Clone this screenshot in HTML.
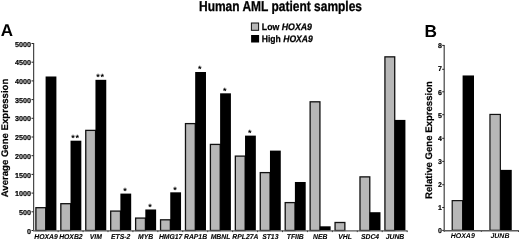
<!DOCTYPE html>
<html><head><meta charset="utf-8"><style>
html,body{margin:0;padding:0;background:#fff;}
svg{display:block;filter:grayscale(1);text-rendering:geometricPrecision;font-family:"Liberation Sans",sans-serif;}
</style></head><body>
<svg width="520" height="240" viewBox="0 0 520 240">
<text x="199.0" y="10.7" font-size="14.2" font-weight="bold" stroke="#000" stroke-width="0.3" textLength="163.0" lengthAdjust="spacingAndGlyphs">Human AML patient samples</text>
<rect x="251.4" y="23.0" width="7.2" height="7.3" fill="#b7b7b7" stroke="#111" stroke-width="1"/>
<rect x="251.1" y="35.0" width="8" height="7.5" fill="#000"/>
<text x="261.8" y="30.1" font-size="9.4" font-weight="bold" stroke="#000" stroke-width="0.25" textLength="50.2" lengthAdjust="spacingAndGlyphs">Low <tspan font-style="italic">HOXA9</tspan></text>
<text x="261.8" y="42.4" font-size="9.4" font-weight="bold" stroke="#000" stroke-width="0.25" textLength="51.0" lengthAdjust="spacingAndGlyphs">High <tspan font-style="italic">HOXA9</tspan></text>
<text x="0.8" y="36.0" font-size="17" font-weight="bold">A</text>
<text x="424.4" y="36.5" font-size="17.3" font-weight="bold">B</text>
<line x1="33.6" y1="43" x2="33.6" y2="230.5" stroke="#4a4a4a" stroke-width="1.25"/>
<line x1="31.5" y1="230.50" x2="33.5" y2="230.50" stroke="#222" stroke-width="1"/>
<text x="31.0" y="233.60" text-anchor="end" font-size="7.2" font-weight="bold" stroke="#000" stroke-width="0.2">0</text>
<line x1="31.5" y1="211.80" x2="33.5" y2="211.80" stroke="#222" stroke-width="1"/>
<text x="31.0" y="214.90" text-anchor="end" font-size="7.2" font-weight="bold" stroke="#000" stroke-width="0.2">500</text>
<line x1="31.5" y1="193.10" x2="33.5" y2="193.10" stroke="#222" stroke-width="1"/>
<text x="31.0" y="196.20" text-anchor="end" font-size="7.2" font-weight="bold" stroke="#000" stroke-width="0.2">1000</text>
<line x1="31.5" y1="174.40" x2="33.5" y2="174.40" stroke="#222" stroke-width="1"/>
<text x="31.0" y="177.50" text-anchor="end" font-size="7.2" font-weight="bold" stroke="#000" stroke-width="0.2">1500</text>
<line x1="31.5" y1="155.70" x2="33.5" y2="155.70" stroke="#222" stroke-width="1"/>
<text x="31.0" y="158.80" text-anchor="end" font-size="7.2" font-weight="bold" stroke="#000" stroke-width="0.2">2000</text>
<line x1="31.5" y1="137.00" x2="33.5" y2="137.00" stroke="#222" stroke-width="1"/>
<text x="31.0" y="140.10" text-anchor="end" font-size="7.2" font-weight="bold" stroke="#000" stroke-width="0.2">2500</text>
<line x1="31.5" y1="118.30" x2="33.5" y2="118.30" stroke="#222" stroke-width="1"/>
<text x="31.0" y="121.40" text-anchor="end" font-size="7.2" font-weight="bold" stroke="#000" stroke-width="0.2">3000</text>
<line x1="31.5" y1="99.60" x2="33.5" y2="99.60" stroke="#222" stroke-width="1"/>
<text x="31.0" y="102.70" text-anchor="end" font-size="7.2" font-weight="bold" stroke="#000" stroke-width="0.2">3500</text>
<line x1="31.5" y1="80.90" x2="33.5" y2="80.90" stroke="#222" stroke-width="1"/>
<text x="31.0" y="84.00" text-anchor="end" font-size="7.2" font-weight="bold" stroke="#000" stroke-width="0.2">4000</text>
<line x1="31.5" y1="62.20" x2="33.5" y2="62.20" stroke="#222" stroke-width="1"/>
<text x="31.0" y="65.30" text-anchor="end" font-size="7.2" font-weight="bold" stroke="#000" stroke-width="0.2">4500</text>
<line x1="31.5" y1="43.50" x2="33.5" y2="43.50" stroke="#222" stroke-width="1"/>
<text x="31.0" y="46.60" text-anchor="end" font-size="7.2" font-weight="bold" stroke="#000" stroke-width="0.2">5000</text>
<line x1="58.13" y1="230.5" x2="58.13" y2="232.1" stroke="#222" stroke-width="1"/>
<line x1="83.06" y1="230.5" x2="83.06" y2="232.1" stroke="#222" stroke-width="1"/>
<line x1="107.99" y1="230.5" x2="107.99" y2="232.1" stroke="#222" stroke-width="1"/>
<line x1="132.92" y1="230.5" x2="132.92" y2="232.1" stroke="#222" stroke-width="1"/>
<line x1="157.85" y1="230.5" x2="157.85" y2="232.1" stroke="#222" stroke-width="1"/>
<line x1="182.78" y1="230.5" x2="182.78" y2="232.1" stroke="#222" stroke-width="1"/>
<line x1="207.71" y1="230.5" x2="207.71" y2="232.1" stroke="#222" stroke-width="1"/>
<line x1="232.64" y1="230.5" x2="232.64" y2="232.1" stroke="#222" stroke-width="1"/>
<line x1="257.57" y1="230.5" x2="257.57" y2="232.1" stroke="#222" stroke-width="1"/>
<line x1="282.50" y1="230.5" x2="282.50" y2="232.1" stroke="#222" stroke-width="1"/>
<line x1="307.43" y1="230.5" x2="307.43" y2="232.1" stroke="#222" stroke-width="1"/>
<line x1="332.36" y1="230.5" x2="332.36" y2="232.1" stroke="#222" stroke-width="1"/>
<line x1="357.29" y1="230.5" x2="357.29" y2="232.1" stroke="#222" stroke-width="1"/>
<line x1="382.22" y1="230.5" x2="382.22" y2="232.1" stroke="#222" stroke-width="1"/>
<line x1="407.15" y1="230.5" x2="407.15" y2="232.1" stroke="#222" stroke-width="1"/>
<rect x="35.90" y="207.69" width="9.8" height="22.81" fill="#b7b7b7" stroke="#111" stroke-width="1.3"/>
<rect x="45.60" y="76.49" width="10.80" height="154.01" fill="#000"/>
<text x="45.97" y="238.6" text-anchor="middle" font-size="7.1" font-weight="bold" font-style="italic" stroke="#000" stroke-width="0.1" textLength="23.48" lengthAdjust="spacingAndGlyphs">HOXA9</text>
<rect x="60.83" y="203.69" width="9.8" height="26.81" fill="#b7b7b7" stroke="#111" stroke-width="1.3"/>
<rect x="70.53" y="140.70" width="10.80" height="89.80" fill="#000"/>
<text x="73.13" y="140.60" text-anchor="middle" font-size="9" font-weight="bold">*</text>
<text x="77.33" y="140.60" text-anchor="middle" font-size="9" font-weight="bold">*</text>
<text x="70.89" y="238.6" text-anchor="middle" font-size="7.1" font-weight="bold" font-style="italic" stroke="#000" stroke-width="0.1" textLength="23.48" lengthAdjust="spacingAndGlyphs">HOXB2</text>
<rect x="85.76" y="130.38" width="9.8" height="100.12" fill="#b7b7b7" stroke="#111" stroke-width="1.3"/>
<rect x="95.46" y="79.82" width="10.80" height="150.68" fill="#000"/>
<text x="98.06" y="79.72" text-anchor="middle" font-size="9" font-weight="bold">*</text>
<text x="102.26" y="79.72" text-anchor="middle" font-size="9" font-weight="bold">*</text>
<text x="95.83" y="238.6" text-anchor="middle" font-size="7.1" font-weight="bold" font-style="italic" stroke="#000" stroke-width="0.1" textLength="12.12" lengthAdjust="spacingAndGlyphs">VIM</text>
<rect x="110.69" y="211.09" width="9.8" height="19.41" fill="#b7b7b7" stroke="#111" stroke-width="1.3"/>
<rect x="120.39" y="193.59" width="10.80" height="36.91" fill="#000"/>
<text x="125.09" y="193.79" text-anchor="middle" font-size="9" font-weight="bold">*</text>
<text x="120.75" y="238.6" text-anchor="middle" font-size="7.1" font-weight="bold" font-style="italic" stroke="#000" stroke-width="0.1" textLength="19.32" lengthAdjust="spacingAndGlyphs">ETS-2</text>
<rect x="135.62" y="218.08" width="9.8" height="12.42" fill="#b7b7b7" stroke="#111" stroke-width="1.3"/>
<rect x="145.32" y="209.48" width="10.80" height="21.02" fill="#000"/>
<text x="150.02" y="209.68" text-anchor="middle" font-size="9" font-weight="bold">*</text>
<text x="145.69" y="238.6" text-anchor="middle" font-size="7.1" font-weight="bold" font-style="italic" stroke="#000" stroke-width="0.1" textLength="15.15" lengthAdjust="spacingAndGlyphs">MYB</text>
<rect x="160.55" y="219.81" width="9.8" height="10.69" fill="#b7b7b7" stroke="#111" stroke-width="1.3"/>
<rect x="170.25" y="192.32" width="10.80" height="38.18" fill="#000"/>
<text x="174.95" y="192.52" text-anchor="middle" font-size="9" font-weight="bold">*</text>
<text x="170.62" y="238.6" text-anchor="middle" font-size="7.1" font-weight="bold" font-style="italic" stroke="#000" stroke-width="0.1" textLength="23.48" lengthAdjust="spacingAndGlyphs">HMG17</text>
<rect x="185.48" y="123.61" width="9.8" height="106.89" fill="#b7b7b7" stroke="#111" stroke-width="1.3"/>
<rect x="195.18" y="72.00" width="10.80" height="158.50" fill="#000"/>
<text x="199.88" y="72.20" text-anchor="middle" font-size="9" font-weight="bold">*</text>
<text x="195.54" y="238.6" text-anchor="middle" font-size="7.1" font-weight="bold" font-style="italic" stroke="#000" stroke-width="0.1" textLength="23.10" lengthAdjust="spacingAndGlyphs">RAP1B</text>
<rect x="210.41" y="144.41" width="9.8" height="86.09" fill="#b7b7b7" stroke="#111" stroke-width="1.3"/>
<rect x="220.11" y="93.32" width="10.80" height="137.18" fill="#000"/>
<text x="224.81" y="93.52" text-anchor="middle" font-size="9" font-weight="bold">*</text>
<text x="220.47" y="238.6" text-anchor="middle" font-size="7.1" font-weight="bold" font-style="italic" stroke="#000" stroke-width="0.1" textLength="19.69" lengthAdjust="spacingAndGlyphs">MBNL</text>
<rect x="235.34" y="156.11" width="9.8" height="74.39" fill="#b7b7b7" stroke="#111" stroke-width="1.3"/>
<rect x="245.04" y="135.62" width="10.80" height="94.88" fill="#000"/>
<text x="249.74" y="135.82" text-anchor="middle" font-size="9" font-weight="bold">*</text>
<text x="245.41" y="238.6" text-anchor="middle" font-size="7.1" font-weight="bold" font-style="italic" stroke="#000" stroke-width="0.1" textLength="26.14" lengthAdjust="spacingAndGlyphs">RPL27A</text>
<rect x="260.27" y="172.61" width="9.8" height="57.89" fill="#b7b7b7" stroke="#111" stroke-width="1.3"/>
<rect x="269.97" y="150.61" width="10.80" height="79.89" fill="#000"/>
<text x="270.33" y="238.6" text-anchor="middle" font-size="7.1" font-weight="bold" font-style="italic" stroke="#000" stroke-width="0.1" textLength="16.29" lengthAdjust="spacingAndGlyphs">ST13</text>
<rect x="285.20" y="202.60" width="9.8" height="27.90" fill="#b7b7b7" stroke="#111" stroke-width="1.3"/>
<rect x="294.90" y="181.99" width="10.80" height="48.51" fill="#000"/>
<text x="295.26" y="238.6" text-anchor="middle" font-size="7.1" font-weight="bold" font-style="italic" stroke="#000" stroke-width="0.1" textLength="17.04" lengthAdjust="spacingAndGlyphs">TFIIB</text>
<rect x="310.13" y="101.81" width="9.8" height="128.69" fill="#b7b7b7" stroke="#111" stroke-width="1.3"/>
<rect x="319.83" y="226.31" width="10.80" height="4.19" fill="#000"/>
<text x="320.19" y="238.6" text-anchor="middle" font-size="7.1" font-weight="bold" font-style="italic" stroke="#000" stroke-width="0.1" textLength="14.39" lengthAdjust="spacingAndGlyphs">NEB</text>
<rect x="335.06" y="222.50" width="9.8" height="8.00" fill="#b7b7b7" stroke="#111" stroke-width="1.3"/>
<text x="345.12" y="238.6" text-anchor="middle" font-size="7.1" font-weight="bold" font-style="italic" stroke="#000" stroke-width="0.1" textLength="13.63" lengthAdjust="spacingAndGlyphs">VHL</text>
<rect x="359.99" y="176.87" width="9.8" height="53.63" fill="#b7b7b7" stroke="#111" stroke-width="1.3"/>
<rect x="369.69" y="212.21" width="10.80" height="18.29" fill="#000"/>
<text x="370.05" y="238.6" text-anchor="middle" font-size="7.1" font-weight="bold" font-style="italic" stroke="#000" stroke-width="0.1" textLength="18.18" lengthAdjust="spacingAndGlyphs">SDC4</text>
<rect x="384.92" y="56.85" width="9.8" height="173.65" fill="#b7b7b7" stroke="#111" stroke-width="1.3"/>
<rect x="394.62" y="119.91" width="10.80" height="110.59" fill="#000"/>
<text x="394.98" y="238.6" text-anchor="middle" font-size="7.1" font-weight="bold" font-style="italic" stroke="#000" stroke-width="0.1" textLength="18.56" lengthAdjust="spacingAndGlyphs">JUNB</text>
<text transform="translate(8,138) rotate(-90)" text-anchor="middle" font-size="9.6" font-weight="bold" stroke="#000" stroke-width="0.2">Average Gene Expression</text>
<line x1="444.2" y1="45" x2="444.2" y2="230.3" stroke="#4a4a4a" stroke-width="1.25"/>
<line x1="442.2" y1="230.40" x2="444.2" y2="230.40" stroke="#222" stroke-width="1"/>
<text x="441.8" y="233.30" text-anchor="end" font-size="7.0" font-weight="bold" stroke="#000" stroke-width="0.2">0</text>
<line x1="442.2" y1="207.50" x2="444.2" y2="207.50" stroke="#222" stroke-width="1"/>
<text x="441.8" y="210.18" text-anchor="end" font-size="7.0" font-weight="bold" stroke="#000" stroke-width="0.2">1</text>
<line x1="442.2" y1="184.75" x2="444.2" y2="184.75" stroke="#222" stroke-width="1"/>
<text x="441.8" y="187.06" text-anchor="end" font-size="7.0" font-weight="bold" stroke="#000" stroke-width="0.2">2</text>
<line x1="442.2" y1="161.40" x2="444.2" y2="161.40" stroke="#222" stroke-width="1"/>
<text x="441.8" y="163.94" text-anchor="end" font-size="7.0" font-weight="bold" stroke="#000" stroke-width="0.2">3</text>
<line x1="442.2" y1="138.30" x2="444.2" y2="138.30" stroke="#222" stroke-width="1"/>
<text x="441.8" y="140.82" text-anchor="end" font-size="7.0" font-weight="bold" stroke="#000" stroke-width="0.2">4</text>
<line x1="442.2" y1="114.70" x2="444.2" y2="114.70" stroke="#222" stroke-width="1"/>
<text x="441.8" y="117.70" text-anchor="end" font-size="7.0" font-weight="bold" stroke="#000" stroke-width="0.2">5</text>
<line x1="442.2" y1="91.80" x2="444.2" y2="91.80" stroke="#222" stroke-width="1"/>
<text x="441.8" y="94.58" text-anchor="end" font-size="7.0" font-weight="bold" stroke="#000" stroke-width="0.2">6</text>
<line x1="442.2" y1="69.30" x2="444.2" y2="69.30" stroke="#222" stroke-width="1"/>
<text x="441.8" y="71.46" text-anchor="end" font-size="7.0" font-weight="bold" stroke="#000" stroke-width="0.2">7</text>
<line x1="442.2" y1="45.40" x2="444.2" y2="45.40" stroke="#222" stroke-width="1"/>
<text x="441.8" y="48.34" text-anchor="end" font-size="7.0" font-weight="bold" stroke="#000" stroke-width="0.2">8</text>
<line x1="444.20" y1="230.3" x2="444.20" y2="231.9" stroke="#222" stroke-width="1"/>
<line x1="481.35" y1="230.3" x2="481.35" y2="231.9" stroke="#222" stroke-width="1"/>
<line x1="518.50" y1="230.3" x2="518.50" y2="231.9" stroke="#222" stroke-width="1"/>
<rect x="452.20" y="200.63" width="10.40" height="29.67" fill="#b7b7b7" stroke="#111" stroke-width="1.2"/>
<rect x="462.60" y="75.46" width="11.40" height="154.84" fill="#000"/>
<text x="462.77" y="238.3" text-anchor="middle" font-size="7" font-weight="bold" font-style="italic">HOXA9</text>
<rect x="489.95" y="114.43" width="10.40" height="115.87" fill="#b7b7b7" stroke="#111" stroke-width="1.2"/>
<rect x="500.35" y="169.87" width="11.40" height="60.43" fill="#000"/>
<text x="499.92" y="238.3" text-anchor="middle" font-size="7" font-weight="bold" font-style="italic">JUNB</text>
<text transform="translate(432,140) rotate(-90)" text-anchor="middle" font-size="9.6" font-weight="bold" stroke="#000" stroke-width="0.2">Relative Gene Expression</text>
<line x1="33.0" y1="230.85" x2="407.25" y2="230.85" stroke="#5a5a5a" stroke-width="1.4"/>
<line x1="443.7" y1="230.75" x2="518.50" y2="230.75" stroke="#5a5a5a" stroke-width="1.4"/>
</svg>
</body></html>
